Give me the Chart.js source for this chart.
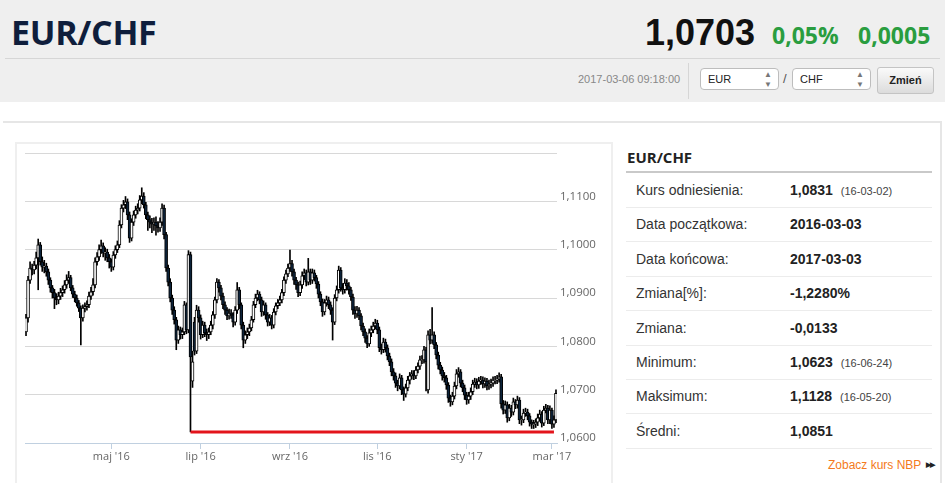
<!DOCTYPE html>
<html><head><meta charset="utf-8">
<script src="https://cdn.jsdelivr.net/npm/chart.js@4.4.0/dist/chart.umd.min.js"></script>
<style>
html,body{margin:0;padding:0}
body{width:945px;height:483px;overflow:hidden;background:#fff;font-family:"Liberation Sans",Arial,sans-serif;position:relative}
.abs{position:absolute;white-space:nowrap}
#hdr{left:0;top:0;width:945px;height:102px;background:#efefef}
#ttl{left:11px;top:9px;font-family:"Open Sans",sans-serif;font-weight:700;font-size:34px;color:#0f1e3c;letter-spacing:-0.3px}
#rate{left:645px;top:12px;font-weight:700;font-size:36px;color:#111}
#pct{left:772px;top:19px;font-family:"Open Sans",sans-serif;font-weight:700;font-size:23px;color:#2a9d3f}
#chg{left:858px;top:19px;font-family:"Open Sans",sans-serif;font-weight:700;font-size:23px;color:#2a9d3f}
#sep{left:5px;top:58px;width:935px;height:1px;background:#d6d6d6}
#ts{left:578px;top:73px;font-size:11px;color:#888}
#vsep{left:688px;top:63px;width:1px;height:36px;background:#d6d6d6}
.sel{top:68px;width:77px;height:20px;border:1px solid #bdbdbd;border-radius:4px;background:#fff;font-size:11px;color:#222;line-height:20px}
.sel span{position:absolute;left:7px}
.sel i{position:absolute;right:6px;top:0;font-style:normal;font-size:8px;color:#777;line-height:10px;margin-top:1px}
#sl1{left:700px}
#sl2{left:792px}
#slash{left:783px;top:71px;font-size:13px;color:#555}
#btn{left:877px;top:67px;width:55px;height:25px;border:1px solid #c4c4c4;border-radius:3px;background:linear-gradient(#fafafa,#dcdcdc);font-size:11px;font-weight:700;color:#222;text-align:center;line-height:25px}
#cont{left:3px;top:121px;width:937px;height:400px;border-top:2px solid #e6e6e6;border-right:2px solid #e6e6e6}
#cbox{left:15px;top:142px;width:594px;height:360px;border:2px solid #efefef;border-bottom:none}
#cv{position:absolute;left:16px;top:143px}
#side{left:626px;top:143px;width:306px}
#stitle{position:absolute;left:1px;top:4px;font-family:"Open Sans",sans-serif;font-weight:700;font-size:15px;color:#222}
#sline{position:absolute;left:0;top:28px;width:306px;height:2px;background:#c9c9c9}
.row{position:absolute;left:0;width:306px;height:34px;border-bottom:1px solid #ececec}
.row .l{position:absolute;left:10px;top:9px;font-size:14px;color:#333}
.row .v{position:absolute;left:164px;top:9px;font-size:14px;font-weight:700;color:#222}
.row .d{font-size:11px;font-weight:400;color:#444;margin-left:8px}
#nbp{left:828px;top:458px;font-size:12px;color:#f47a20}
#nbp b{color:#222;font-size:7px;margin-left:5px;vertical-align:2px;letter-spacing:-1px}
</style></head>
<body>
<div id="hdr" class="abs"></div>
<div id="ttl" class="abs">EUR/CHF</div>
<div id="rate" class="abs">1,0703</div>
<div id="pct" class="abs">0,05%</div>
<div id="chg" class="abs">0,0005</div>
<div id="sep" class="abs"></div>
<div id="ts" class="abs">2017-03-06 09:18:00</div>
<div id="vsep" class="abs"></div>
<div id="sl1" class="abs sel"><span>EUR</span><i>▲<br>▼</i></div>
<div id="slash" class="abs">/</div>
<div id="sl2" class="abs sel"><span>CHF</span><i>▲<br>▼</i></div>
<div id="btn" class="abs">Zmień</div>
<div id="cont" class="abs"></div>
<div id="cbox" class="abs"></div>
<canvas id="cv" width="594" height="340"></canvas>
<div id="side" class="abs">
  <div id="stitle">EUR/CHF</div>
  <div id="sline"></div>
</div>
<div id="nbp" class="abs">Zobacz kurs NBP<b>▶▶</b></div>
<script>
// ---- data (daily EUR/CHF candles, 2016-03-03 .. 2017-03-03) ----
const startDate = '2016-03-03';
const endDate = '2017-03-03';
const tickDates = ['2016-05-02','2016-07-01','2016-09-01','2016-11-01','2017-01-02','2017-03-01'];
const tickLabels = ["maj '16","lip '16","wrz '16","lis '16","sty '17","mar '17"];
const yTicksMin = 1.06, yTicksMax = 1.12, yStep = 0.01;
const minimumValue = 1.0623;
const minimumDate = '2016-06-24';

const opens = [
1.0830,1.0859,1.0937,1.0962,1.0958,1.0968,1.0983,1.1010,1.0975,1.0964,
1.0966,1.0954,1.0937,1.0921,1.0911,1.0900,1.0896,1.0904,1.0911,1.0917,
1.0927,1.0937,1.0942,1.0921,1.0908,1.0900,1.0890,1.0879,1.0859,1.0879,
1.0882,1.0886,1.0904,1.0913,1.0927,1.0975,1.0985,1.1000,1.1008,1.0993,
1.0995,1.0983,1.0975,1.0964,1.0989,1.1000,1.1010,1.1051,1.1086,1.1093,
1.1099,1.1072,1.1024,1.1057,1.1072,1.1082,1.1086,1.1103,1.1111,1.1093,
1.1072,1.1062,1.1057,1.1053,1.1057,1.1049,1.1045,1.1057,1.1086,1.1031,
1.0962,1.0933,1.0900,1.0875,1.0855,1.0813,1.0834,1.0824,1.0830,1.0886,
1.0834,1.0990,1.0728,1.0850,1.0790,1.0875,1.0859,1.0824,1.0844,1.0828,
1.0824,1.0830,1.0844,1.0865,1.0896,1.0933,1.0921,1.0904,1.0886,1.0875,
1.0863,1.0869,1.0865,1.0850,1.0875,1.0917,1.0886,1.0844,1.0813,1.0824,
1.0830,1.0838,1.0855,1.0886,1.0900,1.0908,1.0896,1.0871,1.0886,1.0865,
1.0850,1.0859,1.0844,1.0871,1.0884,1.0890,1.0896,1.0911,1.0937,1.0950,
1.0962,1.0971,1.0954,1.0937,1.0927,1.0911,1.0927,1.0946,1.0952,1.0933,
1.0954,1.0937,1.0952,1.0942,1.0929,1.0908,1.0892,1.0871,1.0890,1.0896,
1.0886,1.0875,1.0850,1.0900,1.0917,1.0958,1.0921,1.0917,1.0931,1.0925,
1.0917,1.0902,1.0875,1.0867,1.0875,1.0863,1.0842,1.0830,1.0817,1.0805,
1.0828,1.0834,1.0842,1.0848,1.0834,1.0797,1.0793,1.0809,1.0797,1.0780,
1.0768,1.0747,1.0739,1.0724,1.0718,1.0735,1.0710,1.0701,1.0714,1.0730,
1.0739,1.0743,1.0739,1.0751,1.0759,1.0772,1.0772,1.0793,1.0710,1.0824,
1.0813,1.0824,1.0803,1.0782,1.0761,1.0751,1.0739,1.0735,1.0720,1.0693,
1.0685,1.0697,1.0718,1.0743,1.0747,1.0724,1.0714,1.0699,1.0689,1.0697,
1.0706,1.0722,1.0726,1.0720,1.0728,1.0730,1.0722,1.0728,1.0718,1.0722,
1.0724,1.0730,1.0730,1.0732,1.0737,1.0681,1.0668,1.0679,1.0652,1.0672,
1.0664,1.0685,1.0679,1.0689,1.0648,1.0648,1.0662,1.0664,1.0656,1.0643,
1.0639,1.0639,1.0643,1.0652,1.0660,1.0641,1.0668,1.0672,1.0648,1.0668,
1.0639,1.0648
];
const highs = [
1.0866,1.0945,1.0975,1.0970,1.0976,1.0995,1.1022,1.1015,1.0985,1.0978,
1.0972,1.0960,1.0942,1.0926,1.0918,1.0909,1.0912,1.0920,1.0925,1.0936,
1.0948,1.0955,1.0947,1.0926,1.0914,1.0906,1.0895,1.0884,1.0886,1.0890,
1.0894,1.0912,1.0922,1.0940,1.0983,1.0994,1.1010,1.1020,1.1014,1.1004,
1.1001,1.0990,1.0981,1.0996,1.1008,1.1018,1.1060,1.1093,1.1102,1.1110,
1.1105,1.1078,1.1064,1.1080,1.1090,1.1095,1.1112,1.1128,1.1118,1.1098,
1.1078,1.1070,1.1065,1.1066,1.1068,1.1058,1.1066,1.1095,1.1092,1.1036,
1.0968,1.0940,1.0906,1.0882,1.0860,1.0842,1.0840,1.0838,1.0893,1.0890,
1.0998,1.0995,1.0790,1.0860,1.0885,1.0882,1.0865,1.0852,1.0850,1.0836,
1.0838,1.0852,1.0872,1.0902,1.0940,1.0938,1.0926,1.0910,1.0892,1.0880,
1.0877,1.0876,1.0870,1.0882,1.0932,1.0922,1.0890,1.0850,1.0832,1.0838,
1.0846,1.0862,1.0893,1.0908,1.0916,1.0913,1.0902,1.0894,1.0890,1.0870,
1.0866,1.0864,1.0878,1.0890,1.0897,1.0904,1.0918,1.0944,1.0958,1.0970,
1.0999,1.0978,1.0960,1.0943,1.0933,1.0935,1.0954,1.0960,1.0958,1.0982,
1.0960,1.0960,1.0958,1.0947,1.0934,1.0913,1.0898,1.0897,1.0904,1.0902,
1.0892,1.0880,1.0907,1.0925,1.0966,1.0963,1.0930,1.0940,1.0938,1.0932,
1.0922,1.0908,1.0882,1.0883,1.0880,1.0868,1.0848,1.0836,1.0822,1.0836,
1.0842,1.0850,1.0856,1.0854,1.0840,1.0805,1.0817,1.0815,1.0803,1.0786,
1.0774,1.0754,1.0745,1.0730,1.0743,1.0740,1.0716,1.0722,1.0738,1.0746,
1.0750,1.0750,1.0758,1.0766,1.0780,1.0781,1.0800,1.0798,1.0832,1.0835,
1.0880,1.0830,1.0808,1.0788,1.0767,1.0757,1.0746,1.0740,1.0725,1.0699,
1.0705,1.0726,1.0752,1.0756,1.0752,1.0730,1.0720,1.0705,1.0705,1.0714,
1.0730,1.0734,1.0733,1.0736,1.0738,1.0737,1.0735,1.0734,1.0730,1.0732,
1.0737,1.0738,1.0740,1.0745,1.0742,1.0688,1.0687,1.0685,1.0680,1.0678,
1.0693,1.0690,1.0697,1.0694,1.0656,1.0670,1.0672,1.0670,1.0661,1.0648,
1.0647,1.0650,1.0660,1.0668,1.0665,1.0676,1.0680,1.0678,1.0677,1.0672,
1.0656,1.0710
];
const lows = [
1.0822,1.0850,1.0930,1.0948,1.0950,1.0960,1.0917,1.0968,1.0955,1.0952,
1.0945,1.0928,1.0912,1.0900,1.0878,1.0886,1.0888,1.0897,1.0903,1.0910,
1.0920,1.0930,1.0915,1.0901,1.0892,1.0883,1.0872,1.0803,1.0852,1.0871,
1.0875,1.0880,1.0897,1.0906,1.0921,1.0968,1.0978,1.0992,1.0985,1.0978,
1.0975,1.0962,1.0955,1.0958,1.0982,1.0994,1.1004,1.1045,1.1078,1.1085,
1.1062,1.1015,1.1018,1.1050,1.1065,1.1074,1.1080,1.1095,1.1086,1.1064,
1.1040,1.1045,1.1035,1.1040,1.1030,1.1036,1.1038,1.1050,1.1022,1.0955,
1.0925,1.0892,1.0866,1.0846,1.0793,1.0806,1.0815,1.0816,1.0824,1.0826,
1.0828,1.0623,1.0715,1.0782,1.0785,1.0850,1.0815,1.0818,1.0820,1.0812,
1.0816,1.0824,1.0836,1.0858,1.0890,1.0912,1.0896,1.0878,1.0866,1.0855,
1.0856,1.0858,1.0840,1.0844,1.0868,1.0878,1.0836,1.0797,1.0806,1.0816,
1.0822,1.0832,1.0850,1.0880,1.0894,1.0888,1.0862,1.0864,1.0856,1.0842,
1.0843,1.0836,1.0838,1.0865,1.0878,1.0884,1.0890,1.0905,1.0930,1.0944,
1.0955,1.0945,1.0928,1.0918,1.0903,1.0905,1.0920,1.0938,1.0925,1.0927,
1.0928,1.0930,1.0935,1.0920,1.0900,1.0884,1.0862,1.0865,1.0883,1.0878,
1.0866,1.0813,1.0845,1.0894,1.0910,1.0914,1.0908,1.0910,1.0916,1.0908,
1.0895,1.0866,1.0858,1.0860,1.0855,1.0834,1.0822,1.0808,1.0797,1.0800,
1.0820,1.0828,1.0836,1.0826,1.0789,1.0784,1.0787,1.0788,1.0772,1.0760,
1.0739,1.0730,1.0715,1.0708,1.0712,1.0700,1.0688,1.0695,1.0708,1.0722,
1.0732,1.0731,1.0733,1.0745,1.0752,1.0764,1.0765,1.0708,1.0703,1.0805,
1.0806,1.0795,1.0774,1.0753,1.0743,1.0730,1.0726,1.0711,1.0684,1.0676,
1.0679,1.0691,1.0712,1.0736,1.0716,1.0706,1.0690,1.0680,1.0682,1.0690,
1.0700,1.0715,1.0712,1.0713,1.0721,1.0714,1.0715,1.0710,1.0711,1.0714,
1.0717,1.0722,1.0723,1.0726,1.0672,1.0660,1.0661,1.0643,1.0646,1.0655,
1.0658,1.0671,1.0672,1.0640,1.0637,1.0642,1.0655,1.0648,1.0635,1.0630,
1.0630,1.0632,1.0636,1.0645,1.0633,1.0636,1.0662,1.0640,1.0640,1.0630,
1.0632,1.0642
];
const closes = [
1.0859,1.0937,1.0962,1.0958,1.0968,1.0983,1.1010,1.0975,1.0964,1.0966,
1.0954,1.0937,1.0921,1.0911,1.0900,1.0896,1.0904,1.0911,1.0917,1.0927,
1.0937,1.0942,1.0921,1.0908,1.0900,1.0890,1.0879,1.0859,1.0879,1.0882,
1.0886,1.0904,1.0913,1.0927,1.0975,1.0985,1.1000,1.1008,1.0993,1.0995,
1.0983,1.0975,1.0964,1.0989,1.1000,1.1010,1.1051,1.1086,1.1093,1.1099,
1.1072,1.1024,1.1057,1.1072,1.1082,1.1086,1.1103,1.1111,1.1093,1.1072,
1.1062,1.1057,1.1053,1.1057,1.1049,1.1045,1.1057,1.1086,1.1031,1.0962,
1.0933,1.0900,1.0875,1.0855,1.0813,1.0834,1.0824,1.0830,1.0886,1.0834,
1.0990,1.0778,1.0768,1.0790,1.0875,1.0859,1.0824,1.0844,1.0828,1.0824,
1.0830,1.0844,1.0865,1.0896,1.0933,1.0921,1.0904,1.0886,1.0875,1.0863,
1.0869,1.0865,1.0850,1.0875,1.0917,1.0886,1.0844,1.0813,1.0824,1.0830,
1.0838,1.0855,1.0886,1.0900,1.0908,1.0896,1.0871,1.0886,1.0865,1.0850,
1.0859,1.0844,1.0871,1.0884,1.0890,1.0896,1.0911,1.0937,1.0950,1.0962,
1.0971,1.0954,1.0937,1.0927,1.0911,1.0927,1.0946,1.0952,1.0933,1.0954,
1.0937,1.0952,1.0942,1.0929,1.0908,1.0892,1.0871,1.0890,1.0896,1.0886,
1.0875,1.0850,1.0900,1.0917,1.0958,1.0921,1.0917,1.0931,1.0925,1.0917,
1.0902,1.0875,1.0867,1.0875,1.0863,1.0842,1.0830,1.0817,1.0805,1.0828,
1.0834,1.0842,1.0848,1.0834,1.0797,1.0793,1.0809,1.0797,1.0780,1.0768,
1.0747,1.0739,1.0724,1.0718,1.0735,1.0710,1.0701,1.0714,1.0730,1.0739,
1.0743,1.0739,1.0751,1.0759,1.0772,1.0772,1.0793,1.0768,1.0824,1.0813,
1.0824,1.0803,1.0782,1.0761,1.0751,1.0739,1.0735,1.0720,1.0693,1.0685,
1.0697,1.0718,1.0743,1.0747,1.0724,1.0714,1.0699,1.0689,1.0697,1.0706,
1.0722,1.0726,1.0720,1.0728,1.0730,1.0722,1.0728,1.0718,1.0722,1.0724,
1.0730,1.0730,1.0732,1.0737,1.0681,1.0668,1.0679,1.0652,1.0672,1.0664,
1.0685,1.0679,1.0689,1.0648,1.0648,1.0662,1.0664,1.0656,1.0643,1.0639,
1.0639,1.0643,1.0652,1.0660,1.0641,1.0668,1.0672,1.0648,1.0668,1.0639,
1.0648,1.0703
];

// side panel stats
const statLabels = ['Kurs odniesienia:','Data początkowa:','Data końcowa:','Zmiana[%]:','Zmiana:','Minimum:','Maksimum:','Średni:'];
const statValues = ['1,0831','2016-03-03','2017-03-03','-1,2280%','-0,0133','1,0623','1,1128','1,0851'];
const statDates  = ['(16-03-02)','','','','','(16-06-24)','(16-05-20)',''];

// ---- side table ----
const side = document.getElementById('side');
statLabels.forEach((lab, i) => {
  const r = document.createElement('div');
  r.className = 'row';
  r.style.top = (30 + i * 34.4) + 'px';
  r.innerHTML = '<span class="l">' + lab + '</span><span class="v">' + statValues[i] +
    (statDates[i] ? '<span class="d">' + statDates[i] + '</span>' : '') + '</span>';
  side.appendChild(r);
});

// ---- trading-day categories ----
const dates = [];
for (let d = new Date(startDate + 'T00:00:00Z'); d <= new Date(endDate + 'T00:00:00Z'); d.setUTCDate(d.getUTCDate() + 1)) {
  const wd = d.getUTCDay();
  if (wd !== 0 && wd !== 6) dates.push(d.toISOString().slice(0, 10));
}
const tickIdx = tickDates.map(t => dates.indexOf(t));

const bodies = closes.map((c, i) => {
  let lo = Math.min(opens[i], c), hi = Math.max(opens[i], c);
  if (hi - lo < 0.0001) { lo -= 0.00005; hi += 0.00005; }
  return [lo, hi];
});
const wicks = highs.map((h, i) => [lows[i], h]);
const minIdx = dates.indexOf(minimumDate);
const minLine = dates.map((d, i) => (i >= minIdx && i <= dates.length - 2) ? minimumValue : null);

const ctx = document.getElementById('cv').getContext('2d');
new Chart(ctx, {
  type: 'bar',
  data: {
    labels: dates,
    datasets: [
      {
        type: 'line', data: minLine, borderColor: '#e3141b', borderWidth: 3,
        pointRadius: 0, spanGaps: false, order: 0
      },
      {
        data: bodies, grouped: false, barThickness: 3, borderSkipped: false,
        backgroundColor: closes.map((c, i) => c >= opens[i] ? '#ffffff' : '#0d233a'),
        borderColor: '#000000', borderWidth: 1, order: 1
      },
      {
        data: wicks, grouped: false, barThickness: 1, backgroundColor: '#000000',
        borderWidth: 0, order: 2
      }
    ]
  },
  options: {
    responsive: false, animation: false,
    layout: { padding: { left: 9, top: 10, right: 0, bottom: 0 } },
    plugins: { legend: { display: false }, tooltip: { enabled: false } },
    scales: {
      x: {
        type: 'category', offset: true,
        afterFit: s => { s.height = 40; },
        grid: {
          offset: false, drawOnChartArea: false, drawTicks: true, tickLength: 6,
          tickColor: c => tickIdx.includes(c.index) ? '#c0d0e0' : 'rgba(0,0,0,0)'
        },
        border: { display: true, color: '#c0d0e0', width: 1 },
        ticks: {
          autoSkip: false, maxRotation: 0, minRotation: 0, padding: 1,
          color: '#666', font: { family: 'Open Sans', size: 11 },
          callback: (v, i) => { const k = tickIdx.indexOf(i); return k >= 0 ? tickLabels[k] : ''; }
        }
      },
      y: {
        position: 'right', min: yTicksMin, max: yTicksMax,
        afterFit: s => { s.width = 53; },
        grid: { color: '#d8d8d8', drawTicks: false },
        border: { display: false },
        ticks: {
          stepSize: yStep, padding: 3, labelOffset: -5, color: '#666',
          font: { family: 'Open Sans', size: 11.5 },
          callback: v => Math.abs(v - yTicksMax) < 1e-6 ? '' : v.toFixed(4).replace('.', ',')
        }
      }
    }
  }
});
</script>
</body></html>
